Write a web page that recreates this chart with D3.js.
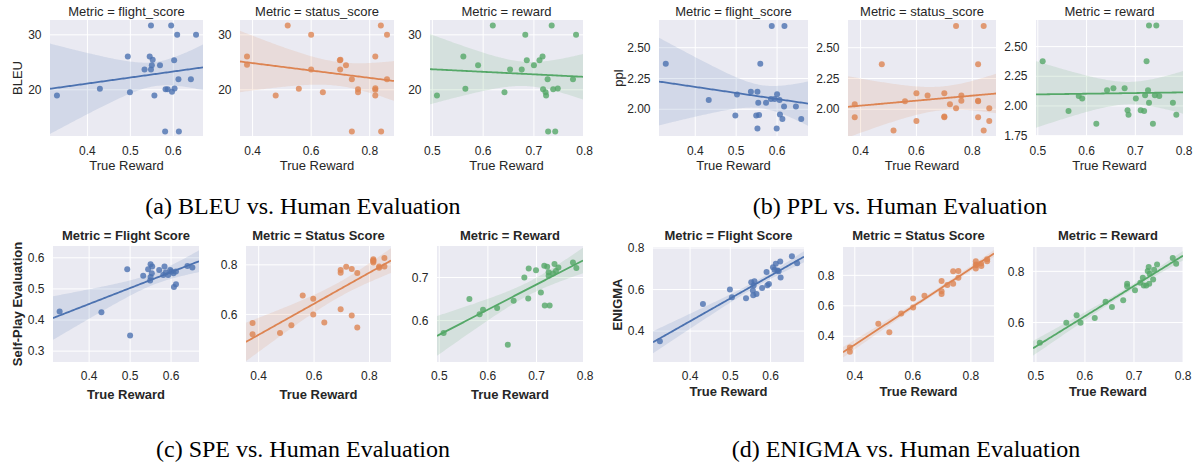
<!DOCTYPE html>
<html>
<head>
<meta charset="utf-8">
<script src="https://cdn.jsdelivr.net/npm/d3@7"></script>
<style>
  body { margin: 0; background: #fff; }
  svg { display: block; }
</style>
</head>
<body>
<div id="chart"></div>
<script>
// tick values
const flightTicks = [0.4, 0.5, 0.6];
const statusTicks = [0.4, 0.6, 0.8];
const rewardTicks = [0.5, 0.6, 0.7, 0.8];
const bleuTicks = [20, 30];
const pplTicks = [2.00, 2.25, 2.50];
const pplRewardTicks = [1.75, 2.00, 2.25, 2.50];
const speFlightTicks = [0.3, 0.4, 0.5, 0.6];
const speStatusTicks = [0.6, 0.8];
const speRewardTicks = [0.6, 0.7];
const enigmaTicks = [0.4, 0.6, 0.8];
const enigmaRewardTicks = [0.6, 0.8];

// y-axis limits as shown (they include the bootstrap band)
const bleuLim = [11.6, 32.7];
const pplLim = [1.783, 2.725];
const pplRewardLim = [1.747, 2.724];
const speFlightLim = [0.265, 0.638];
const speStatusLim = [0.408, 0.876];
const speRewardLim = [0.504, 0.773];
const enigmaFlightLim = [0.251, 0.805];
const enigmaStatusLim = [0.231, 0.986];
const enigmaRewardLim = [0.446, 0.895];

// [true reward, metric] per system
const bleuFlight = [[0.329,18.97],[0.429,20.18],[0.494,26.06],[0.499,19.58],[0.533,23.70],[0.545,26.06],[0.548,31.70],[0.548,23.70],[0.550,24.48],[0.552,25.45],[0.556,18.97],[0.569,24.48],[0.581,12.42],[0.582,20.12],[0.587,20.12],[0.595,31.70],[0.597,19.64],[0.602,25.39],[0.603,20.24],[0.609,30.0],[0.612,21.94],[0.613,12.42],[0.641,21.94],[0.653,30.0]];
const bleuStatus = [[0.381,26.06],[0.381,24.55],[0.479,18.97],[0.520,31.70],[0.558,20.18],[0.600,30.0],[0.600,23.70],[0.640,19.58],[0.698,25.39],[0.700,25.45],[0.699,23.70],[0.719,24.48],[0.739,21.94],[0.739,12.42],[0.760,20.12],[0.760,19.58],[0.819,26.06],[0.819,20.30],[0.819,20.0],[0.819,18.97],[0.838,31.70],[0.839,12.42],[0.859,30.0],[0.859,21.94]];
const bleuReward = [[0.509,18.97],[0.561,26.06],[0.565,20.18],[0.590,24.48],[0.619,31.70],[0.642,19.58],[0.653,23.70],[0.676,23.70],[0.683,30.0],[0.686,25.39],[0.700,24.48],[0.711,25.39],[0.717,26.06],[0.718,20.12],[0.723,19.58],[0.724,18.97],[0.727,21.94],[0.728,12.42],[0.735,31.70],[0.738,20.12],[0.742,12.42],[0.747,20.24],[0.777,21.94],[0.783,30.0]];

const pplFlight = [[0.328,2.370],[0.433,2.076],[0.502,2.119],[0.498,1.949],[0.536,2.143],[0.552,2.143],[0.554,2.054],[0.549,1.949],[0.556,1.954],[0.559,2.370],[0.552,1.843],[0.573,2.054],[0.587,2.676],[0.585,2.084],[0.594,2.084],[0.599,1.843],[0.600,2.122],[0.606,2.076],[0.607,1.957],[0.613,1.922],[0.617,2.022],[0.618,2.676],[0.646,2.022],[0.659,1.922]];
const pplStatus = [[0.379,2.041],[0.379,1.935],[0.476,2.365],[0.518,1.827],[0.559,2.065],[0.600,2.130],[0.600,1.905],[0.640,2.111],[0.700,2.130],[0.700,1.941],[0.700,1.935],[0.720,2.041],[0.742,2.676],[0.742,2.008],[0.761,2.111],[0.761,2.070],[0.821,2.365],[0.821,2.070],[0.821,2.065],[0.821,1.935],[0.841,2.676],[0.841,1.827],[0.861,2.008],[0.861,1.905]];
const pplReward = [[0.510,2.376],[0.563,1.958],[0.584,2.084],[0.591,2.062],[0.620,1.851],[0.642,2.132],[0.655,2.149],[0.678,2.149],[0.684,1.963],[0.686,1.927],[0.701,2.062],[0.711,1.963],[0.718,1.958],[0.720,2.090],[0.723,2.376],[0.726,2.132],[0.728,2.677],[0.728,2.028],[0.736,1.851],[0.740,2.090],[0.743,2.677],[0.749,2.084],[0.777,2.028],[0.784,1.927]];

const speFlight = [[0.328,0.427],[0.430,0.425],[0.493,0.563],[0.500,0.350],[0.532,0.542],[0.544,0.563],[0.550,0.579],[0.549,0.527],[0.550,0.538],[0.554,0.572],[0.553,0.550],[0.571,0.561],[0.581,0.545],[0.584,0.572],[0.587,0.553],[0.593,0.545],[0.598,0.561],[0.601,0.556],[0.606,0.550],[0.607,0.506],[0.612,0.515],[0.612,0.556],[0.640,0.574],[0.652,0.569]];
const speStatus = [[0.378,0.565],[0.378,0.520],[0.477,0.525],[0.518,0.556],[0.559,0.676],[0.597,0.663],[0.597,0.600],[0.637,0.567],[0.696,0.779],[0.696,0.768],[0.696,0.621],[0.716,0.792],[0.736,0.783],[0.736,0.596],[0.756,0.767],[0.756,0.547],[0.814,0.823],[0.814,0.818],[0.814,0.815],[0.814,0.809],[0.835,0.793],[0.835,0.788],[0.854,0.828],[0.854,0.793]];
const speReward = [[0.509,0.571],[0.562,0.650],[0.583,0.615],[0.590,0.625],[0.619,0.629],[0.641,0.544],[0.653,0.646],[0.675,0.700],[0.683,0.651],[0.684,0.721],[0.699,0.717],[0.709,0.665],[0.716,0.727],[0.717,0.635],[0.722,0.725],[0.725,0.704],[0.725,0.712],[0.727,0.635],[0.734,0.709],[0.737,0.731],[0.740,0.715],[0.745,0.723],[0.775,0.735],[0.782,0.722]];

const enigmaFlight = [[0.325,0.351],[0.432,0.531],[0.499,0.600],[0.504,0.563],[0.539,0.558],[0.552,0.635],[0.560,0.640],[0.558,0.619],[0.556,0.595],[0.557,0.573],[0.565,0.579],[0.579,0.608],[0.590,0.684],[0.592,0.621],[0.596,0.627],[0.606,0.708],[0.610,0.695],[0.613,0.724],[0.617,0.692],[0.620,0.688],[0.624,0.735],[0.625,0.658],[0.653,0.761],[0.666,0.727]];
const enigmaStatus = [[0.383,0.327],[0.383,0.298],[0.481,0.482],[0.519,0.427],[0.560,0.550],[0.601,0.648],[0.601,0.589],[0.640,0.666],[0.699,0.762],[0.699,0.696],[0.699,0.677],[0.719,0.736],[0.739,0.827],[0.739,0.745],[0.757,0.829],[0.757,0.784],[0.817,0.893],[0.817,0.871],[0.819,0.867],[0.817,0.845],[0.835,0.878],[0.836,0.862],[0.856,0.906],[0.856,0.893]];
const enigmaReward = [[0.508,0.521],[0.562,0.599],[0.583,0.629],[0.591,0.599],[0.620,0.618],[0.642,0.681],[0.655,0.661],[0.678,0.687],[0.686,0.742],[0.686,0.752],[0.702,0.726],[0.713,0.755],[0.718,0.775],[0.720,0.745],[0.725,0.745],[0.728,0.801],[0.730,0.817],[0.731,0.752],[0.732,0.791],[0.739,0.768],[0.741,0.806],[0.747,0.827],[0.779,0.852],[0.786,0.830]];

const W = 1199, H = 466;
const blue = "#4C72B0", orange = "#DD8452", green = "#55A868";
const fmtInt = d3.format("d"), fmt1 = d3.format(".1f"), fmt2 = d3.format(".2f");
const sans = "'Liberation Sans', Arial, Helvetica, sans-serif";

const groups = [
  { caption: "(a) BLEU vs. Human Evaluation", capX: 303, capY: 214,
    top: 20, bottom: 136, bold: false, ylabel: "BLEU", ylabelX: 17,
    titleY: 15.7, tickY: 19, labelY: 34,
    panels: [
      { left: 50, right: 203, title: "Metric = flight_score", data: bleuFlight, xt: flightTicks, yt: bleuTicks, lim: bleuLim, fmt: fmtInt, color: blue },
      { left: 240, right: 394, title: "Metric = status_score", data: bleuStatus, xt: statusTicks, yt: bleuTicks, lim: bleuLim, fmt: fmtInt, color: orange },
      { left: 430, right: 583, title: "Metric = reward", data: bleuReward, xt: rewardTicks, yt: bleuTicks, lim: bleuLim, fmt: fmtInt, color: green }
    ] },
  { caption: "(b) PPL vs. Human Evaluation", capX: 900, capY: 214,
    top: 20, bottom: 136, bold: false, ylabel: "ppl", ylabelX: 618,
    titleY: 15.7, tickY: 19, labelY: 34,
    panels: [
      { left: 659, right: 808, title: "Metric = flight_score", data: pplFlight, xt: flightTicks, yt: pplTicks, lim: pplLim, fmt: fmt2, color: blue },
      { left: 848, right: 996, title: "Metric = status_score", data: pplStatus, xt: statusTicks, yt: pplTicks, lim: pplLim, fmt: fmt2, color: orange },
      { left: 1036, right: 1183, title: "Metric = reward", data: pplReward, xt: rewardTicks, yt: pplRewardTicks, lim: pplRewardLim, fmt: fmt2, color: green }
    ] },
  { caption: "(c) SPE vs. Human Evaluation", capX: 303, capY: 457,
    top: 246, bottom: 362, bold: true, ylabel: "Self-Play Evaluation", ylabelX: 17,
    titleY: 239.7, tickY: 17.5, labelY: 37,
    panels: [
      { left: 53, right: 199, title: "Metric = Flight Score", data: speFlight, xt: flightTicks, yt: speFlightTicks, lim: speFlightLim, fmt: fmt1, color: blue },
      { left: 246, right: 391, title: "Metric = Status Score", data: speStatus, xt: statusTicks, yt: speStatusTicks, lim: speStatusLim, fmt: fmt1, color: orange },
      { left: 437, right: 583, title: "Metric = Reward", data: speReward, xt: rewardTicks, yt: speRewardTicks, lim: speRewardLim, fmt: fmt1, color: green }
    ] },
  { caption: "(d) ENIGMA vs. Human Evaluation", capX: 906, capY: 457,
    top: 247, bottom: 362, bold: true, ylabel: "ENIGMA", ylabelX: 617,
    titleY: 240.3, tickY: 18.3, labelY: 33.5,
    panels: [
      { left: 653, right: 804, title: "Metric = Flight Score", data: enigmaFlight, xt: flightTicks, yt: enigmaTicks, lim: enigmaFlightLim, fmt: fmt1, color: blue },
      { left: 843, right: 994, title: "Metric = Status Score", data: enigmaStatus, xt: statusTicks, yt: enigmaTicks, lim: enigmaStatusLim, fmt: fmt1, color: orange },
      { left: 1033, right: 1183, title: "Metric = Reward", data: enigmaReward, xt: rewardTicks, yt: enigmaRewardTicks, lim: enigmaRewardLim, fmt: fmt1, color: green }
    ] }
];

// ordinary least squares fit with a 95% confidence band
function regress(pts, x0, x1) {
  const n = pts.length;
  const mx = d3.mean(pts, d => d[0]), my = d3.mean(pts, d => d[1]);
  const sxx = d3.sum(pts, d => (d[0] - mx) ** 2);
  const sxy = d3.sum(pts, d => (d[0] - mx) * (d[1] - my));
  const b = sxy / sxx, a = my - b * mx;
  const s = Math.sqrt(d3.sum(pts, d => (d[1] - a - b * d[0]) ** 2) / (n - 2));
  const t = 2.074; // t(0.975, 22)
  return d3.range(101).map(i => {
    const x = x0 + (x1 - x0) * i / 100;
    const yhat = a + b * x;
    const se = s * Math.sqrt(1 / n + (x - mx) ** 2 / sxx);
    return { x: x, y: yhat, lo: yhat - t * se, hi: yhat + t * se };
  });
}

// matplotlib-style 5% margin on the x range
function pad(ext) {
  const m = (ext[1] - ext[0]) * 0.05;
  return [ext[0] - m, ext[1] + m];
}

const svg = d3.select("#chart").append("svg")
  .attr("width", W)
  .attr("height", H);

let clipId = 0;

groups.forEach(g => {
  const weight = g.bold ? "bold" : "normal";

  g.panels.forEach(p => {
    const xDom = pad(d3.extent(p.data, d => d[0]));
    const fit = regress(p.data, xDom[0], xDom[1]);

    const x = d3.scaleLinear().domain(xDom).range([p.left, p.right]);
    const y = d3.scaleLinear().domain(p.lim).range([g.bottom, g.top]);

    const id = "clip" + (clipId++);
    svg.append("clipPath").attr("id", id)
      .append("rect")
      .attr("x", p.left).attr("y", g.top)
      .attr("width", p.right - p.left).attr("height", g.bottom - g.top);

    const ax = svg.append("g");

    ax.append("rect")
      .attr("x", p.left).attr("y", g.top)
      .attr("width", p.right - p.left).attr("height", g.bottom - g.top)
      .attr("fill", "#EAEAF2");

    ax.selectAll(".gx").data(p.xt).join("line")
      .attr("class", "gx")
      .attr("x1", d => x(d)).attr("x2", d => x(d))
      .attr("y1", g.top).attr("y2", g.bottom)
      .attr("stroke", "#fff").attr("stroke-width", 1);

    ax.selectAll(".gy").data(p.yt).join("line")
      .attr("class", "gy")
      .attr("x1", p.left).attr("x2", p.right)
      .attr("y1", d => y(d)).attr("y2", d => y(d))
      .attr("stroke", "#fff").attr("stroke-width", 1);

    const inner = ax.append("g").attr("clip-path", `url(#${id})`);

    inner.selectAll("circle").data(p.data).join("circle")
      .attr("cx", d => x(d[0]))
      .attr("cy", d => y(d[1]))
      .attr("r", 3)
      .attr("fill", p.color)
      .attr("fill-opacity", 0.8);

    inner.append("path")
      .datum(fit)
      .attr("d", d3.area().x(d => x(d.x)).y0(d => y(d.lo)).y1(d => y(d.hi)))
      .attr("fill", p.color)
      .attr("fill-opacity", 0.15);

    inner.append("path")
      .datum(fit)
      .attr("d", d3.line().x(d => x(d.x)).y(d => y(d.y)))
      .attr("fill", "none")
      .attr("stroke", p.color)
      .attr("stroke-width", 1.8);

    // tick labels
    ax.selectAll(".tx").data(p.xt).join("text")
      .attr("class", "tx")
      .attr("x", d => x(d))
      .attr("y", g.bottom + g.tickY)
      .attr("text-anchor", "middle")
      .attr("font-family", sans).attr("font-size", 12)
      .attr("fill", "#262626")
      .text(d => fmt1(d));

    ax.selectAll(".ty").data(p.yt).join("text")
      .attr("class", "ty")
      .attr("x", p.left - 8.5)
      .attr("y", d => y(d))
      .attr("dy", "0.35em")
      .attr("text-anchor", "end")
      .attr("font-family", sans).attr("font-size", 12)
      .attr("fill", "#262626")
      .text(d => p.fmt(d));

    ax.append("text")
      .attr("x", (p.left + p.right) / 2)
      .attr("y", g.titleY)
      .attr("text-anchor", "middle")
      .attr("font-family", sans).attr("font-size", 13)
      .attr("font-weight", weight)
      .attr("fill", "#262626")
      .text(p.title);

    ax.append("text")
      .attr("x", (p.left + p.right) / 2)
      .attr("y", g.bottom + g.labelY)
      .attr("text-anchor", "middle")
      .attr("font-family", sans).attr("font-size", 13)
      .attr("font-weight", weight)
      .attr("fill", "#262626")
      .text("True Reward");
  });

  svg.append("text")
    .attr("transform", `translate(${g.ylabelX},${(g.top + g.bottom) / 2}) rotate(-90)`)
    .attr("dy", "0.35em")
    .attr("text-anchor", "middle")
    .attr("font-family", sans).attr("font-size", 13)
    .attr("font-weight", weight)
    .attr("fill", "#262626")
    .text(g.ylabel);

  svg.append("text")
    .attr("x", g.capX)
    .attr("y", g.capY)
    .attr("text-anchor", "middle")
    .attr("font-family", "'Liberation Serif', 'Times New Roman', serif")
    .attr("font-size", 24)
    .attr("fill", "#000")
    .text(g.caption);
});
</script>
</body>
</html>
